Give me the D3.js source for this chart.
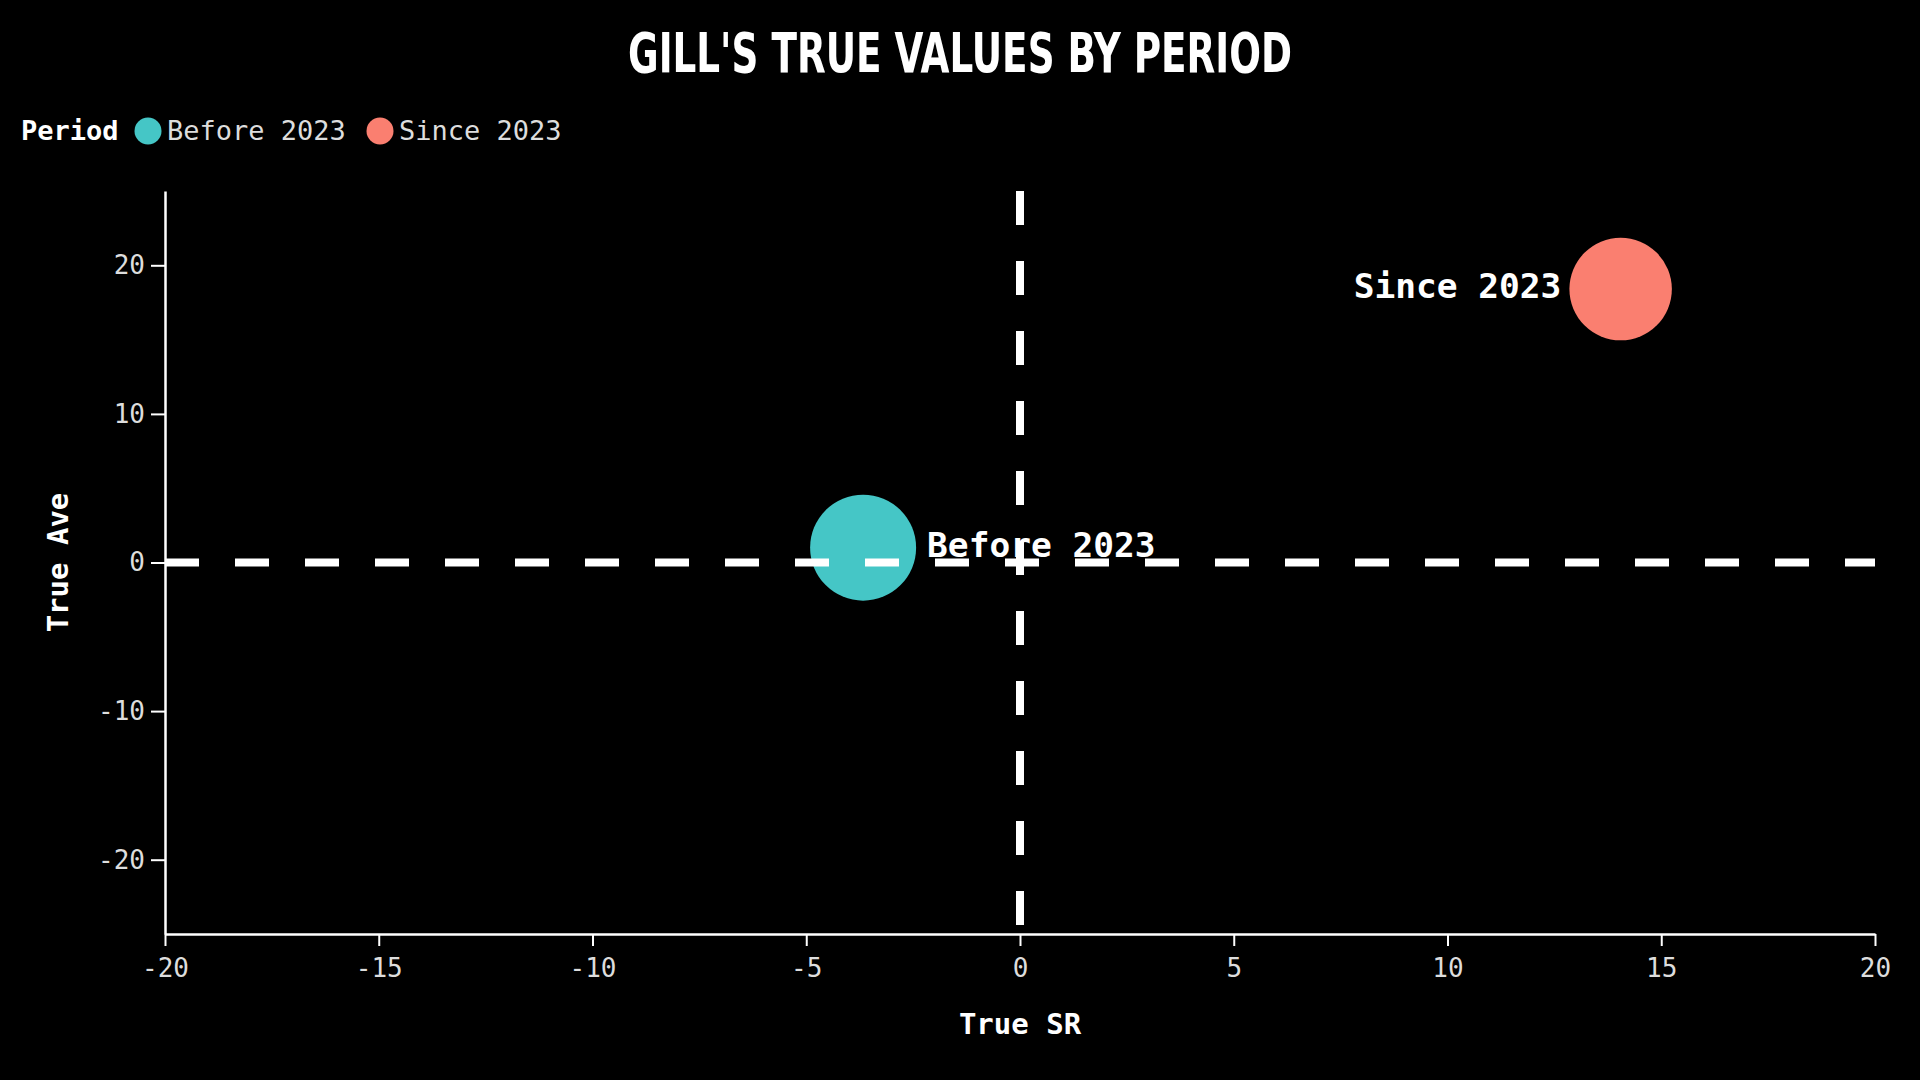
<!DOCTYPE html>
<html>
<head>
<meta charset="utf-8">
<script src="https://cdn.jsdelivr.net/npm/d3@7"></script>
<style>
  html, body { margin: 0; padding: 0; background: #000; }
  svg { display: block; }
</style>
</head>
<body>
<script>
// ---- data ----
const periods = ["Before 2023", "Since 2023"];
const trueSR = [-3.67, 14.05];
const trueAve = [1.0, 18.4];
const sizeValue = [53, 49.5];      // bubble size metric (relative)
const periodColors = ["#45C6C6", "#FA7F70"];
const xTicks = [-20, -15, -10, -5, 0, 5, 10, 15, 20];
const yTicks = [-20, -10, 0, 10, 20];
const xDomain = [-20, 20];
const yDomain = [-25, 25];
const titleText = "GILL'S TRUE VALUES BY PERIOD";
const xLabel = "True SR";
const yLabel = "True Ave";
const legendTitle = "Period";

const W = 1920, H = 1080;
const margin = { left: 165, right: 45, top: 191, bottom: 146 };
const mono = "'DejaVu Sans Mono', 'Liberation Mono', monospace";

const svg = d3.select("body").append("svg").attr("width", W).attr("height", H);
svg.append("rect").attr("width", W).attr("height", H).attr("fill", "#000");

const x = d3.scaleLinear().domain(xDomain).range([margin.left, W - margin.right]);
const y = d3.scaleLinear().domain(yDomain).range([H - margin.bottom, margin.top]);
const r = d3.scaleSqrt().domain([0, d3.max(sizeValue)]).range([0, 53]);
const fmt = v => String(v);

// title
svg.append("text")
  .attr("x", W / 2).attr("y", 72)
  .attr("text-anchor", "middle")
  .attr("font-family", "'DejaVu Sans Condensed', 'DejaVu Sans', sans-serif")
  .attr("font-weight", "bold")
  .attr("font-size", 56)
  .attr("textLength", 664)
  .attr("lengthAdjust", "spacingAndGlyphs")
  .attr("fill", "#fff")
  .text(titleText);

// legend
const lg = svg.append("g").attr("transform", "translate(0,131)");
lg.append("text").attr("x", 21).attr("y", 0).attr("dy", "0.35em")
  .attr("font-family", mono).attr("font-weight", "bold").attr("font-size", 27)
  .attr("fill", "#fff").text(legendTitle);
const legendX = [148, 380];
periods.forEach((p, i) => {
  lg.append("circle").attr("cx", legendX[i]).attr("cy", 0).attr("r", 13.5)
    .attr("fill", periodColors[i]);
  lg.append("text").attr("x", legendX[i] + 19).attr("y", 0).attr("dy", "0.35em")
    .attr("font-family", mono).attr("font-size", 27).attr("fill", "#ddd").text(p);
});

// axes
const xAxis = svg.append("g").attr("transform", `translate(0,${H - margin.bottom})`)
  .call(d3.axisBottom(x).tickValues(xTicks).tickFormat(fmt).tickSize(12).tickSizeOuter(0).tickPadding(8));
const yAxis = svg.append("g").attr("transform", `translate(${margin.left},0)`)
  .call(d3.axisLeft(y).tickValues(yTicks).tickFormat(fmt).tickSize(14).tickSizeOuter(0).tickPadding(6));
[xAxis, yAxis].forEach(a => {
  a.select(".domain").attr("stroke", "#fff").attr("stroke-width", 2.5);
  a.selectAll(".tick line").attr("stroke", "#fff").attr("stroke-width", 2);
  a.selectAll(".tick text").attr("fill", "#ddd").attr("font-family", mono).attr("font-size", 26);
});
xAxis.selectAll(".tick text").attr("dy", "0.9em");

// axis labels
svg.append("text").attr("x", (x.range()[0] + x.range()[1]) / 2).attr("y", 1024).attr("dy", "0.35em")
  .attr("text-anchor", "middle").attr("font-family", mono).attr("font-weight", "bold")
  .attr("font-size", 29).attr("fill", "#fff").text(xLabel);
svg.append("text").attr("transform", `translate(58,${y(0)}) rotate(-90)`).attr("dy", "0.35em")
  .attr("text-anchor", "middle").attr("font-family", mono).attr("font-weight", "bold")
  .attr("font-size", 29).attr("fill", "#fff").text(yLabel);

// bubbles
const pts = periods.map((p, i) => ({ p, sr: trueSR[i], ave: trueAve[i], s: sizeValue[i], c: periodColors[i] }));
svg.append("g").selectAll("circle").data(pts).join("circle")
  .attr("cx", d => x(d.sr)).attr("cy", d => y(d.ave)).attr("r", d => r(d.s))
  .attr("fill", d => d.c);

// reference lines
svg.append("line").attr("x1", x(xDomain[0])).attr("x2", x(xDomain[1]))
  .attr("y1", y(0)).attr("y2", y(0))
  .attr("stroke", "#fff").attr("stroke-width", 8).attr("stroke-dasharray", "34,36");
svg.append("line").attr("x1", x(0)).attr("x2", x(0))
  .attr("y1", y(yDomain[1])).attr("y2", y(yDomain[0]))
  .attr("stroke", "#fff").attr("stroke-width", 8).attr("stroke-dasharray", "34,36");

// labels
svg.append("g").selectAll("text").data(pts).join("text")
  .attr("x", (d, i) => i === 0 ? x(d.sr) + r(d.s) + 11 : x(d.sr) - r(d.s) - 8)
  .attr("y", d => y(d.ave) - 3).attr("dy", "0.35em")
  .attr("text-anchor", (d, i) => i === 0 ? "start" : "end")
  .attr("font-family", mono).attr("font-weight", "bold").attr("font-size", 34.5)
  .attr("fill", "#fff").text(d => d.p);
</script>
</body>
</html>
